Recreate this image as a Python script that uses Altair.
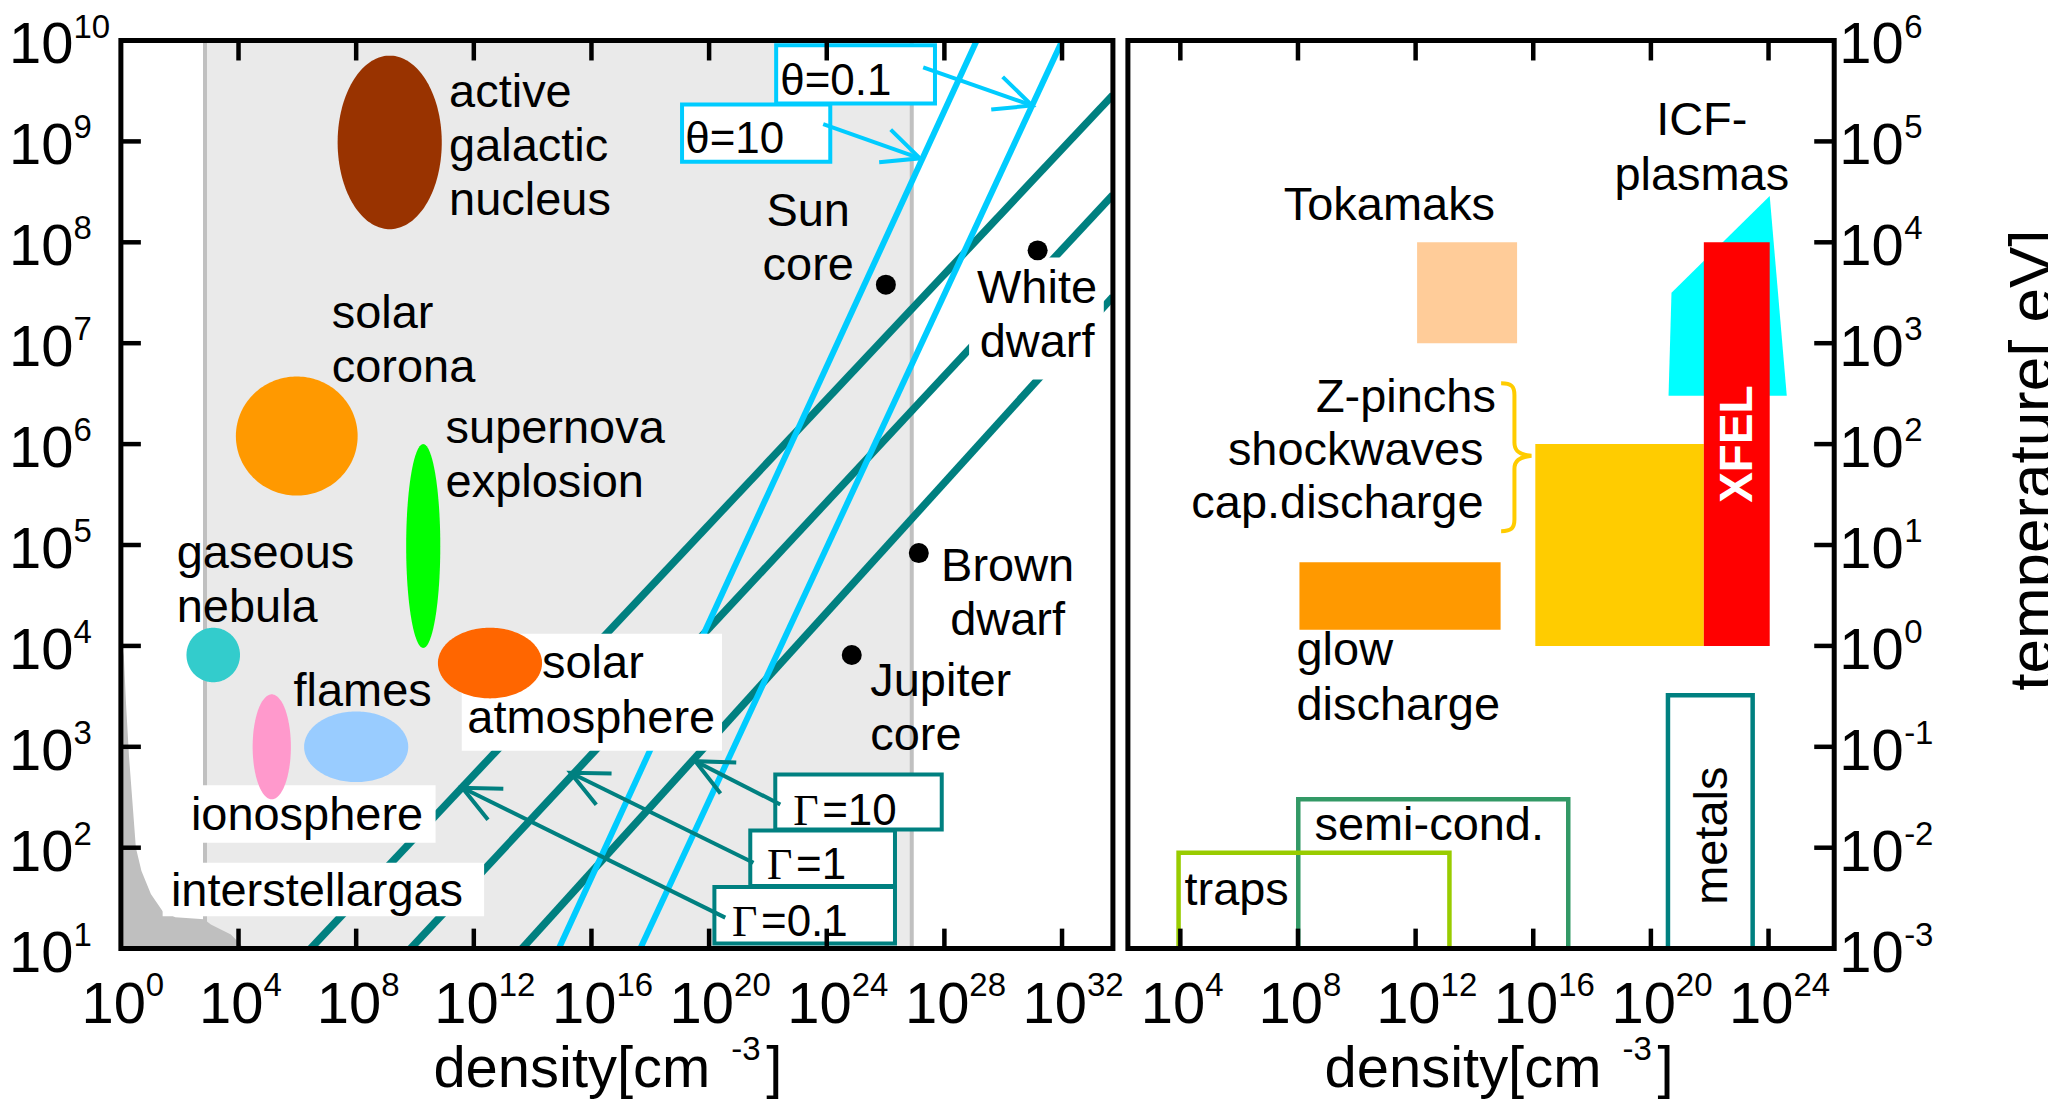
import math
import numpy as np
import pandas as pd
import altair as alt

SANS = "Liberation Sans, Arial, Helvetica, sans-serif"
SERIF = "Liberation Serif, Times New Roman, serif"

# ---------- natural plasmas: log10 density [cm^-3] vs log10 temperature [K] ----------
region_names = ["active galactic nucleus", "solar corona", "supernova explosion",
                "gaseous nebula", "solar atmosphere", "ionosphere", "flames"]
region_logn = [9.14, 5.98, 10.28, 3.14, 12.55, 5.13, 8.00]
region_logT = [8.99, 6.08, 4.99, 3.91, 3.83, 3.00, 3.00]
region_span_n = [1.77, 2.07, 0.58, 0.91, 1.77, 0.65, 1.77]   # half extent in decades
region_span_T = [0.86, 0.59, 1.01, 0.27, 0.35, 0.52, 0.35]

star_names = ["Sun core", "White dwarf", "Brown dwarf", "Jupiter core"]
star_logn = [26.01, 31.17, 27.13, 24.85]
star_logT = [7.58, 7.92, 4.92, 3.91]

# interstellar gas
ism_logn = [0.0, 0.10, 0.18, 0.28, 0.51, 0.70, 1.02, 1.42, 1.85, 2.83, 3.06, 3.74, 4.08, 4.15]
ism_logT = [4.08, 3.90, 3.40, 2.89, 2.00, 1.77, 1.54, 1.37, 1.31, 1.29, 1.24, 1.14, 1.04, 1.0]

# shaded density band
band_logn = [2.86, 26.89]

# coupling parameter lines, Gamma = 0.1, 1, 10
gamma_values = ["0.1", "1", "10"]
gamma_logn = [[6.45, 33.73], [9.85, 33.73], [13.64, 33.73]]
gamma_logT = [[1.0, 9.46], [1.0, 8.47], [1.0, 7.46]]

# degeneracy lines, theta = 10, 0.1
theta_values = ["10", "0.1"]
theta_logn = [[14.89, 29.10], [17.66, 32.01]]
theta_logT = [[1.0, 10.0], [1.0, 10.0]]

# ---------- laboratory plasmas: log10 density [cm^-3] vs log10 temperature [eV] ----------
lab_names = ["Tokamaks", "glow discharge", "Z-pinchs"]
lab_logn_lo = [12.05, 8.05, 16.07]
lab_logn_hi = [15.45, 14.89, 21.80]
lab_logT_lo = [3.0, 0.16, 0.0]
lab_logT_hi = [4.0, 0.83, 2.0]

xfel_logn = [21.80, 24.04]
xfel_logT = [0.0, 4.0]

icf_logn = [20.60, 20.70, 24.04, 24.62]
icf_logT = [2.48, 3.50, 4.46, 2.48]

solid_names = ["semi-cond.", "traps", "metals"]
solid_logn_lo = [8.01, 3.94, 20.58]
solid_logn_hi = [17.19, 13.15, 23.46]
solid_logT_hi = [-1.52, -2.05, -0.49]

# ---------- layout and styling ----------
W_L, W_R, W_T, H = 993, 707, 199, 909
XL, YL = (0.0, 33.73), (1.0, 10.0)
XR, YR = (2.217, 26.233), (-3.0, 6.0)
PX_N = W_L / (XL[1] - XL[0])
PX_T = H / (YL[1] - YL[0])

TEAL, CYAN = "#008080", "#00ccff"
region_colors = ["#993300", "#ff9900", "#00ff00", "#33cccc", "#ff6600", "#ff99cc", "#99ccff"]
lab_colors = ["#ffcc99", "#ff9900", "#ffcc00"]
solid_colors = ["#339966", "#99cc00", "#008080"]

HEAD = "M -1 -0.466 L 0 0 L -1 0.466"
BRACE = ("M -0.18 -1 C -0.04 -1 0 -0.96 0 -0.84 L 0 -0.2 C 0 -0.09 0.06 -0.03 0.23 -0.02 "
         "C 0.06 0 0 0.05 0 0.16 L 0 0.84 C 0 0.96 -0.04 1 -0.18 1")

ONE = pd.DataFrame({"a": [0]})


def sc(d):
    return alt.Scale(domain=list(d), nice=False, zero=False)


def qx(f, s):
    return alt.X(f"{f}:Q", scale=s, axis=None)


def qy(f, s):
    return alt.Y(f"{f}:Q", scale=s, axis=None, stack=None)


def texts(rows, xs, ys, align, size=47, font=SANS, dx=0, line=54):
    df = pd.DataFrame(rows, columns=["t", "x", "y"])
    return alt.Chart(df).mark_text(align=align, baseline="alphabetic", font=font, fontSize=size,
                                   color="black", lineBreak="\n", lineHeight=line, dx=dx).encode(
        x=qx("x", xs), y=qy("y", ys), text="t:N")


def rects(df, xs, ys, **kw):
    return alt.Chart(df).mark_rect(**kw).encode(
        x=qx("x", xs), x2="x2:Q", y=qy("y", ys), y2="y2:Q")


def frame(w):
    return alt.Chart(ONE).mark_rect(fill="transparent", stroke="black", strokeWidth=5).encode(
        x=alt.value(0), x2=alt.value(w), y=alt.value(0), y2=alt.value(H))


def x_ticks(vals, xs):
    df = pd.DataFrame({"v": vals})
    bot = alt.Chart(df).mark_rule(color="black", strokeWidth=4.5).encode(
        x=qx("v", xs), y=alt.value(H), y2=alt.value(H - 20))
    top = alt.Chart(df).mark_rule(color="black", strokeWidth=4.5).encode(
        x=qx("v", xs), y=alt.value(0), y2=alt.value(20))
    return [bot, top]


def y_ticks(vals, ys, at, inward):
    df = pd.DataFrame({"v": vals})
    return alt.Chart(df).mark_rule(color="black", strokeWidth=4.5).encode(
        y=qy("v", ys), x=alt.value(at), x2=alt.value(at + inward))


def power_labels(vals):
    return pd.DataFrame({"v": vals, "base": ["10"] * len(vals), "exp": [str(v) for v in vals]})


def x_labels(vals, xs):
    df = power_labels(vals)
    base = alt.Chart(df).mark_text(align="right", baseline="alphabetic", font=SANS, fontSize=58,
                                   color="black", dx=25).encode(
        x=qx("v", xs), y=alt.value(H + 74), text="base:N")
    sup = alt.Chart(df).mark_text(align="left", baseline="alphabetic", font=SANS, fontSize=33,
                                  color="black", dx=25).encode(
        x=qx("v", xs), y=alt.value(H + 47), text="exp:N")
    return [base, sup]


def y_labels(vals, ys, base_x, base_align, sup_x):
    df = power_labels(vals)
    base = alt.Chart(df).mark_text(align=base_align, baseline="alphabetic", font=SANS, fontSize=58,
                                   color="black", dy=23).encode(
        x=alt.value(base_x), y=qy("v", ys), text="base:N")
    sup = alt.Chart(df).mark_text(align="left", baseline="alphabetic", font=SANS, fontSize=33,
                                  color="black", dy=-3).encode(
        x=alt.value(sup_x), y=qy("v", ys), text="exp:N")
    return [base, sup]


def density_title(right_x):
    base = alt.Chart(ONE).mark_text(align="right", baseline="alphabetic", font=SANS, fontSize=58,
                                    color="black").encode(
        x=alt.value(right_x), y=alt.value(H + 139), text=alt.value("density[cm"))
    sup = alt.Chart(ONE).mark_text(align="left", baseline="alphabetic", font=SANS, fontSize=33,
                                   color="black").encode(
        x=alt.value(right_x + 21), y=alt.value(H + 111), text=alt.value("-3"))
    close = alt.Chart(ONE).mark_text(align="left", baseline="alphabetic", font=SANS, fontSize=58,
                                     color="black").encode(
        x=alt.value(right_x + 56), y=alt.value(H + 139), text=alt.value("]"))
    return [base, sup, close]


def polyline_frame(xl, yl, ids):
    rows = []
    for i, (xx, yy) in enumerate(zip(xl, yl)):
        for a, b in zip(xx, yy):
            rows.append({"id": ids[i], "x": a, "y": b})
    return pd.DataFrame(rows)


# ================= left panel =================
xs, ys = sc(XL), sc(YL)

band = rects(pd.DataFrame({"x": [band_logn[0]], "x2": [band_logn[1]], "y": [YL[0]], "y2": [YL[1]]}),
             xs, ys, color="#eaeaea")
band_edges = alt.Chart(pd.DataFrame({"x": band_logn})).mark_rule(color="#c0c0c0", strokeWidth=4).encode(
    x=qx("x", xs), y=alt.value(0), y2=alt.value(H))

ism = alt.Chart(pd.DataFrame({"x": ism_logn, "y": ism_logT, "y2": [YL[0]] * len(ism_logn)})).mark_area(
    color="#bfbfbf", opacity=1, clip=True).encode(x=qx("x", xs), y=qy("y", ys), y2="y2:Q")

gamma_lines = alt.Chart(polyline_frame(gamma_logn, gamma_logT, gamma_values)).mark_line(
    color=TEAL, strokeWidth=7.5, clip=True).encode(x=qx("x", xs), y=qy("y", ys), detail="id:N")
theta_lines = alt.Chart(polyline_frame(theta_logn, theta_logT, theta_values)).mark_line(
    color=CYAN, strokeWidth=6, clip=True).encode(x=qx("x", xs), y=qy("y", ys), detail="id:N")

# white backgrounds behind some labels
label_boxes = pd.DataFrame({
    "x": [11.59, 2.15, 1.42, 28.84],
    "x2": [20.44, 10.70, 12.35, 33.42],
    "y": [4.12, 2.62, 1.85, 7.85],
    "y2": [2.96, 2.05, 1.32, 6.64],
})
boxes = rects(label_boxes, xs, ys, color="white")

t = np.linspace(0.0, np.pi, 91)
ell_rows = []
for nm, col, cx, cy, a, b in zip(region_names, region_colors, region_logn, region_logT,
                                 region_span_n, region_span_T):
    for tt in t:
        ell_rows.append({"name": nm, "c": col, "x": cx + a * np.cos(tt),
                         "y": cy + b * np.sin(tt), "y2": cy - b * np.sin(tt)})
ellipses = alt.Chart(pd.DataFrame(ell_rows)).mark_area(opacity=1).encode(
    x=qx("x", xs), y=qy("y", ys), y2="y2:Q", detail="name:N",
    fill=alt.Fill("c:N", scale=None))

left_text_l = texts([
    ("active\ngalactic\nnucleus", 11.16, 9.34),
    ("solar\ncorona", 7.17, 7.15),
    ("supernova\nexplosion", 11.04, 6.01),
    ("gaseous\nnebula", 1.90, 4.77),
    ("flames", 5.87, 3.40),
    ("solar", 14.32, 3.68),
    ("atmosphere", 11.78, 3.14),
    ("ionosphere", 2.38, 2.18),
    ("interstellargas", 1.70, 1.42),
    ("Jupiter\ncore", 25.48, 3.50),
], xs, ys, "left")
left_text_c = texts([
    ("Sun\ncore", 23.37, 8.16),
    ("White\ndwarf", 31.15, 7.40),
    ("Brown\ndwarf", 30.15, 4.64),
], xs, ys, "center")

stars = alt.Chart(pd.DataFrame({"name": star_names, "x": star_logn, "y": star_logT})).mark_circle(
    size=400, color="black", opacity=1).encode(x=qx("x", xs), y=qy("y", ys))

# annotation boxes for theta and Gamma
note_boxes = pd.DataFrame({
    "x": [22.28, 19.08, 22.25, 21.40, 20.18],
    "x2": [27.68, 24.12, 27.91, 26.32, 26.32],
    "y": [9.953, 9.366, 2.726, 2.171, 1.611],
    "y2": [9.376, 8.799, 2.181, 1.621, 1.050],
    "c": [CYAN, CYAN, TEAL, TEAL, TEAL],
})
notes = alt.Chart(note_boxes).mark_rect(fill="white", strokeWidth=4).encode(
    x=qx("x", xs), x2="x2:Q", y=qy("y", ys), y2="y2:Q", stroke=alt.Stroke("c:N", scale=None))

theta_text = texts([("θ=0.1", 22.42, 9.458), ("θ=10", 19.19, 8.881)], xs, ys, "left", size=44)
gamma_sym = texts([("Γ", 22.86, 2.23), ("Γ", 21.97, 1.686), ("Γ", 20.78, 1.126)],
                  xs, ys, "left", size=44, font=SERIF)
gamma_num = texts([("=10", 22.86, 2.23), ("=1", 21.97, 1.686), ("=0.1", 20.78, 1.126)],
                  xs, ys, "left", size=44, dx=29)

arrows = pd.DataFrame({
    "x0": [27.28, 23.88, 22.42, 21.51, 20.55],
    "y0": [9.733, 9.171, 2.429, 1.851, 1.307],
    "x1": [30.98, 27.17, 19.53, 15.29, 11.61],
    "y1": [9.356, 8.832, 2.858, 2.743, 2.594],
    "c": [CYAN, CYAN, TEAL, TEAL, TEAL],
})
arrows["angle"] = [
    math.degrees(math.atan2(-(r.y1 - r.y0) * PX_T, (r.x1 - r.x0) * PX_N)) % 360
    for r in arrows.itertuples()
]
arrow_lines = alt.Chart(arrows).mark_rule(strokeWidth=4).encode(
    x=qx("x0", xs), x2="x1:Q", y=qy("y0", ys), y2="y1:Q", stroke=alt.Stroke("c:N", scale=None))
arrow_heads = alt.Chart(arrows).mark_point(shape=HEAD, size=5535, filled=False, strokeWidth=4,
                                           opacity=1).encode(
    x=qx("x1", xs), y=qy("y1", ys), angle=alt.Angle("angle:Q", scale=None),
    stroke=alt.Stroke("c:N", scale=None))

left = alt.layer(
    band, band_edges, ism, gamma_lines, theta_lines, boxes, ellipses,
    left_text_l, left_text_c, stars, notes, theta_text, gamma_sym, gamma_num,
    arrow_lines, arrow_heads,
    *x_ticks(list(range(4, 33, 4)), xs),
    y_ticks(list(range(2, 10)), ys, 0, 20),
    frame(W_L),
    *x_labels(list(range(0, 33, 4)), xs),
    *y_labels(list(range(1, 11)), ys, -47.5, "right", -47.5),
    *density_title(590),
).properties(width=W_L, height=H)

# ================= right panel =================
xr, yr = sc(XR), sc(YR)

lab = pd.DataFrame({"name": lab_names, "c": lab_colors, "x": lab_logn_lo, "x2": lab_logn_hi,
                    "y": lab_logT_lo, "y2": lab_logT_hi})
lab_rects = alt.Chart(lab).mark_rect(opacity=1).encode(
    x=qx("x", xr), x2="x2:Q", y=qy("y", yr), y2="y2:Q", fill=alt.Fill("c:N", scale=None))

xfel = rects(pd.DataFrame({"x": [xfel_logn[0]], "x2": [xfel_logn[1]],
                           "y": [xfel_logT[0]], "y2": [xfel_logT[1]]}), xr, yr, color="#ff0000")

icf = alt.Chart(pd.DataFrame({"x": icf_logn, "y": icf_logT, "y2": [icf_logT[0]] * len(icf_logn)})).mark_area(
    color="#00ffff", opacity=1).encode(x=qx("x", xr), y=qy("y", yr), y2="y2:Q")

solid = pd.DataFrame({"name": solid_names, "x": solid_logn_lo, "x2": solid_logn_hi,
                      "y": [YR[0]] * 3, "y2": solid_logT_hi, "c": solid_colors})
solid_boxes = alt.Chart(solid).mark_rect(fill="transparent", strokeWidth=4.5).encode(
    x=qx("x", xr), x2="x2:Q", y=qy("y", yr), y2="y2:Q", stroke=alt.Stroke("c:N", scale=None))

brace = alt.Chart(pd.DataFrame({"x": [15.36], "y": [1.87]})).mark_point(
    shape=BRACE, size=21904, filled=False, strokeWidth=4, color="#ffcc00", opacity=1).encode(
    x=qx("x", xr), y=qy("y", yr))

right_text_c = texts([("Tokamaks", 11.11, 4.22), ("ICF-\nplasmas", 21.73, 5.06)], xr, yr, "center", line=55)
right_text_r1 = texts([("Z-pinchs", 14.73, 2.32)], xr, yr, "right")
right_text_r2 = texts([("shockwaves", 14.31, 1.79), ("cap.discharge", 14.31, 1.27)], xr, yr, "right")
right_text_l = texts([("glow\ndischarge", 7.95, -0.19), ("semi-cond.", 8.56, -1.92), ("traps", 4.14, -2.57)],
                     xr, yr, "left", line=55)
metals = alt.Chart(pd.DataFrame({"x": [22.12], "y": [-1.88]})).mark_text(
    angle=270, align="center", baseline="middle", font=SANS, fontSize=47, color="black").encode(
    x=qx("x", xr), y=qy("y", yr), text=alt.value("metals"))
xfel_text = alt.Chart(pd.DataFrame({"x": [22.96], "y": [2.0]})).mark_text(
    angle=270, align="center", baseline="middle", font=SANS, fontSize=46, fontWeight="bold",
    color="white").encode(x=qx("x", xr), y=qy("y", yr), text=alt.value("XFEL"))

right = alt.layer(
    lab_rects, icf, xfel, solid_boxes.transform_filter(alt.datum.name != "traps"),
    solid_boxes.transform_filter(alt.datum.name == "traps"), brace,
    right_text_c, right_text_r1, right_text_r2, right_text_l, metals, xfel_text,
    *x_ticks(list(range(4, 25, 4)), xr),
    y_ticks(list(range(-2, 6)), yr, W_R, -20),
    frame(W_R),
    *x_labels(list(range(4, 25, 4)), xr),
    *y_labels(list(range(-3, 7)), yr, W_R + 5, "left", W_R + 70),
    *density_title(474),
).properties(width=W_R, height=H)

# ================= temperature axis title =================
t_title = alt.Chart(ONE).mark_text(
    angle=270, align="center", baseline="alphabetic", font=SANS, fontSize=62, color="black",
    clip=True).encode(x=alt.value(W_T + 4), y=alt.value(420), text=alt.value("temperature[ eV]"))
title_panel = t_title.properties(width=W_T, height=H)

chart = alt.hconcat(left, right, title_panel, spacing=15, bounds="flush").properties(
    padding={"left": 8, "top": 10, "right": 0, "bottom": 0}
).configure_view(stroke="transparent")

chart.save("out.html", embed_options={"renderer": "svg", "actions": False})
